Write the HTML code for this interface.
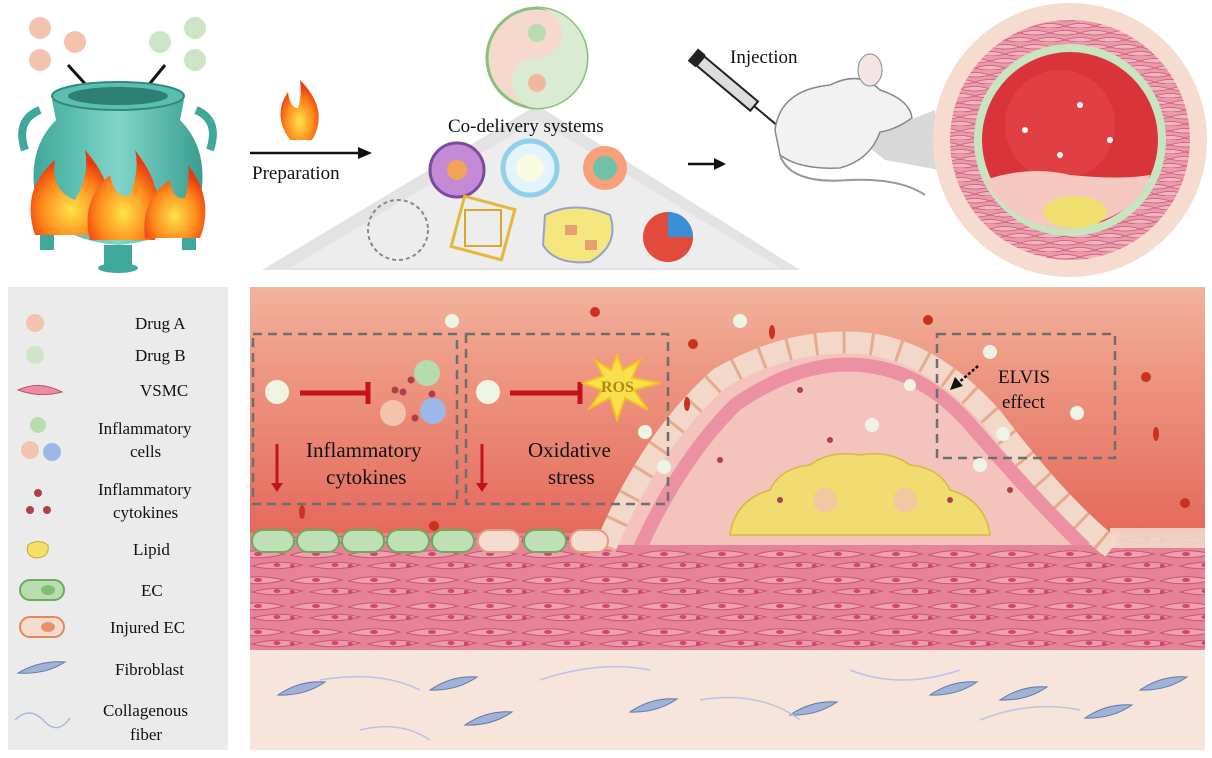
<!DOCTYPE html>
<html><head><meta charset="utf-8"><style>
html,body{margin:0;padding:0;background:#fff;width:1212px;height:758px;overflow:hidden}
svg text{font-family:"Liberation Serif",serif;fill:#111}
</style></head><body>
<svg width="1212" height="758" viewBox="0 0 1212 758" xmlns="http://www.w3.org/2000/svg">
<defs>
<linearGradient id="bg" x1="0" y1="0" x2="0" y2="1">
<stop offset="0" stop-color="#f3b39d"/><stop offset="0.3" stop-color="#ee9a85"/><stop offset="1" stop-color="#e4685a"/></linearGradient>
<linearGradient id="pot" x1="0" y1="0" x2="1" y2="0">
<stop offset="0" stop-color="#3fa89a"/><stop offset="0.5" stop-color="#7fd6c8"/><stop offset="1" stop-color="#3a9d90"/></linearGradient>
<radialGradient id="fl" cx="0.5" cy="0.7" r="0.6"><stop offset="0" stop-color="#ffe34a"/><stop offset="0.6" stop-color="#ff8a1c"/><stop offset="1" stop-color="#e83a10"/></radialGradient>
<pattern id="cells" width="58" height="26" patternUnits="userSpaceOnUse">
<rect width="58" height="26" fill="#e88598"/>
<path d="M0 9 Q25 1 52 8 Q28 15 0 9Z" fill="#f2a8b6" stroke="#c84f70" stroke-width="1"/>
<ellipse cx="26" cy="8" rx="4" ry="2" fill="#c8406c"/>
<path d="M20 20 Q45 13 70 19 Q45 26 20 20Z" fill="#efa0b0" stroke="#c84f70" stroke-width="1"/>
<path d="M-38 20 Q-13 13 12 19 Q-13 26 -38 20Z" fill="#efa0b0" stroke="#c84f70" stroke-width="1"/>
<ellipse cx="45" cy="19" rx="3.5" ry="2" fill="#c8406c"/>
<ellipse cx="2" cy="20" rx="3" ry="2" fill="#c8406c"/>
</pattern>
<pattern id="cells2" width="30" height="14" patternUnits="userSpaceOnUse">
<rect width="30" height="14" fill="#ea9aa8"/>
<path d="M0 5 Q15 0 30 5 Q15 9 0 5Z" fill="#f1b4c0" stroke="#c85a78" stroke-width="0.8"/>
<path d="M-15 12 Q0 7 15 12 Q0 16 -15 12Z M15 12 Q30 7 45 12 Q30 16 15 12Z" fill="#f1b4c0" stroke="#c85a78" stroke-width="0.8"/>
</pattern>
</defs>

<!-- TOP -->
<circle cx="40" cy="28" r="11" fill="#f3c3ad"/><circle cx="75" cy="42" r="11" fill="#f3c3ad"/><circle cx="40" cy="60" r="11" fill="#f3c3ad"/>
<circle cx="160" cy="42" r="11" fill="#cde5c6"/><circle cx="195" cy="28" r="11" fill="#cde5c6"/><circle cx="195" cy="60" r="11" fill="#cde5c6"/>
<line x1="68" y1="65" x2="98" y2="98" stroke="#111" stroke-width="3"/><polygon points="102,103 90,96 98,89" fill="#111"/>
<line x1="165" y1="65" x2="138" y2="98" stroke="#111" stroke-width="3"/><polygon points="133,103 137,90 145,96" fill="#111"/>
<path d="M52 100 Q118 78 184 100 L180 120 Q210 150 200 200 Q180 240 118 245 Q56 240 36 200 Q26 150 56 120 Z" fill="url(#pot)"/>
<ellipse cx="118" cy="96" rx="66" ry="14" fill="#5bbfb0" stroke="#2e8a7e" stroke-width="2"/>
<ellipse cx="118" cy="96" rx="50" ry="9" fill="#2e7f74"/>
<path d="M40 110 Q15 120 25 150" stroke="#3fa89a" stroke-width="8" fill="none"/>
<path d="M196 110 Q220 120 210 150" stroke="#3fa89a" stroke-width="8" fill="none"/>
<rect x="104" y="245" width="28" height="22" fill="#3fa89a"/><ellipse cx="118" cy="268" rx="20" ry="5" fill="#3fa89a"/>
<rect x="40" y="220" width="14" height="30" fill="#3fa89a"/><rect x="182" y="220" width="14" height="30" fill="#3fa89a"/>
<g fill="url(#fl)">
<path d="M35 235 Q20 190 55 160 Q50 190 75 200 Q90 175 85 150 Q120 190 110 235 Z"/>
<path d="M90 240 Q80 200 110 175 Q115 200 130 195 Q140 170 135 150 Q170 195 155 240 Z"/>
<path d="M145 238 Q140 200 170 180 Q172 200 185 198 Q190 180 188 165 Q215 200 200 238 Z"/>
</g>
<path d="M290 140 Q272 115 288 92 Q290 108 298 108 Q302 95 300 80 Q330 110 312 140 Z" fill="url(#fl)"/>
<line x1="250" y1="153" x2="360" y2="153" stroke="#111" stroke-width="2.5"/><polygon points="372,153 358,147 358,159" fill="#111"/>
<text x="252" y="179" font-size="19">Preparation</text>
<polygon points="537,105 800,270 262,270" fill="#e3e3e3"/>
<polygon points="537,120 780,268 290,268" fill="#ededed"/>
<circle cx="537" cy="58" r="50" fill="#f5d9cc" stroke="#8cbf7e" stroke-width="3"/>
<path d="M537 8 A50 50 0 0 1 537 108 A25 25 0 0 1 537 58 A25 25 0 0 0 537 8 Z" fill="#d9ecd2"/>
<circle cx="537" cy="33" r="9" fill="#b8dbb0"/><circle cx="537" cy="83" r="9" fill="#f0b8a0"/>
<text x="448" y="132" font-size="19">Co-delivery systems</text>
<circle cx="457" cy="170" r="27" fill="#c58ad6" stroke="#7e4aa0" stroke-width="3"/><circle cx="457" cy="170" r="10" fill="#f3a25a"/>
<circle cx="530" cy="168" r="27" fill="#e3f3fb" stroke="#8fd0ea" stroke-width="5"/><circle cx="530" cy="168" r="14" fill="#f8fbe0"/>
<circle cx="605" cy="168" r="22" fill="#f7a07a"/><circle cx="605" cy="168" r="12" fill="#6fc2a6"/>
<circle cx="398" cy="230" r="30" fill="none" stroke="#888" stroke-width="2" stroke-dasharray="4 3"/>
<rect x="457" y="202" width="52" height="52" fill="none" stroke="#e3b83a" stroke-width="3" transform="rotate(15 483 228)"/>
<rect x="465" y="210" width="36" height="36" fill="none" stroke="#d9a628" stroke-width="2"/>
<path d="M545 215 Q575 200 610 215 Q620 245 590 262 Q555 265 543 245 Z" fill="#f5e67e" stroke="#9aa0c8" stroke-width="2"/>
<rect x="565" y="225" width="12" height="10" fill="#e8a070"/><rect x="585" y="240" width="12" height="10" fill="#e8a070"/>
<circle cx="668" cy="237" r="25" fill="#e24a3c"/><path d="M668 212 A25 25 0 0 1 693 237 L668 237 Z" fill="#3a8fd6"/>
<line x1="688" y1="164" x2="716" y2="164" stroke="#111" stroke-width="2.5"/><polygon points="726,164 714,158 714,170" fill="#111"/>
<g transform="rotate(40 735 90)"><rect x="690" y="84" width="70" height="12" fill="#ddd" stroke="#222" stroke-width="2"/><rect x="680" y="82" width="10" height="16" fill="#222"/><line x1="760" y1="90" x2="790" y2="90" stroke="#222" stroke-width="2"/></g>
<text x="730" y="63" font-size="19">Injection</text>
<polygon points="860,140 935,110 940,170 885,160" fill="#c8c8c8" opacity="0.7"/>
<path d="M775 130 Q780 90 830 85 Q860 70 880 90 Q910 100 912 118 Q895 130 880 132 Q870 160 840 168 Q800 170 780 155 Z" fill="#f2f2f2" stroke="#888" stroke-width="1.5"/>
<ellipse cx="870" cy="70" rx="12" ry="16" fill="#f4e4e4" stroke="#888"/>
<path d="M780 155 Q790 185 850 180 Q900 178 925 195" stroke="#999" stroke-width="2" fill="none"/>
<!-- artery circle -->
<circle cx="1070" cy="140" r="137" fill="#f5dccf"/>
<circle cx="1070" cy="140" r="120" fill="url(#cells2)"/>
<circle cx="1070" cy="140" r="96" fill="#c9e5c0"/>
<circle cx="1070" cy="140" r="88" fill="#d8343a"/>
<circle cx="1060" cy="125" r="55" fill="#e64a4a" opacity="0.6"/>
<path d="M985 180 Q1030 165 1070 175 Q1120 180 1150 175 Q1140 215 1070 230 Q1010 225 985 180 Z" fill="#f5c8c0"/>
<ellipse cx="1075" cy="212" rx="32" ry="16" fill="#f0e070"/>
<circle cx="1025" cy="130" r="3" fill="#fff"/><circle cx="1080" cy="105" r="3" fill="#fff"/><circle cx="1110" cy="140" r="3" fill="#fff"/><circle cx="1060" cy="155" r="3" fill="#fff"/>

<!-- LEGEND -->
<rect x="8" y="287" width="220" height="463" fill="#ebebeb"/>
<g font-size="17">
<circle cx="35" cy="323" r="9" fill="#f3c3ad"/><text x="135" y="329">Drug A</text>
<circle cx="35" cy="355" r="9" fill="#cde5c6"/><text x="135" y="361">Drug B</text>
<path d="M18 390 Q40 380 62 392 Q40 398 18 390 Z" fill="#ec8ea2" stroke="#c0506a"/><text x="140" y="396">VSMC</text>
<circle cx="38" cy="425" r="8" fill="#b9dcb0"/><circle cx="30" cy="450" r="9" fill="#f3c3ad"/><circle cx="52" cy="452" r="9" fill="#9cb8e8"/>
<text x="98" y="434">Inflammatory</text><text x="130" y="457">cells</text>
<circle cx="38" cy="493" r="4" fill="#b04048"/><circle cx="30" cy="510" r="4" fill="#b04048"/><circle cx="47" cy="510" r="4" fill="#b04048"/>
<text x="98" y="495">Inflammatory</text><text x="113" y="518">cytokines</text>
<path d="M28 545 Q38 538 48 545 Q50 558 35 558 Q25 555 28 545Z" fill="#f5e06a" stroke="#c9a830"/><text x="133" y="555">Lipid</text>
<rect x="20" y="580" width="44" height="20" rx="10" fill="#b9dcb0" stroke="#6caa5e" stroke-width="2"/><ellipse cx="48" cy="590" rx="7" ry="5" fill="#7fbf70"/><text x="141" y="596">EC</text>
<rect x="20" y="617" width="44" height="20" rx="10" fill="#f6dccf" stroke="#e08a5a" stroke-width="2"/><ellipse cx="48" cy="627" rx="7" ry="5" fill="#e8926a"/><text x="110" y="633">Injured EC</text>
<path d="M18 673 Q40 660 65 662 Q45 675 18 673Z" fill="#9fb2d8" stroke="#6078a8"/><text x="115" y="675">Fibroblast</text>
<path d="M15 720 Q30 705 45 722 Q58 735 70 718" stroke="#a8b8e0" stroke-width="1.5" fill="none"/>
<text x="103" y="716">Collagenous</text><text x="130" y="740">fiber</text>
</g>

<!-- MAIN -->
<rect x="250" y="287" width="955" height="250" fill="url(#bg)"/>
<rect x="250" y="533" width="955" height="118" fill="url(#cells)"/>
<rect x="250" y="533" width="955" height="118" fill="#e07890" opacity="0.15"/>
<rect x="250" y="650" width="955" height="100" fill="#f7e4da"/>
<!-- plaque -->
<path d="M600 545 Q650 440 720 380 Q790 340 860 345 Q930 350 990 420 Q1060 510 1110 545 Z" fill="#f4c4bc"/>
<path d="M605 548 Q650 440 720 378 Q790 338 860 343 Q930 348 992 418 Q1060 508 1112 548" stroke="#f2d8c8" stroke-width="22" fill="none"/>
<path d="M605 548 Q650 440 720 378 Q790 338 860 343 Q930 348 992 418 Q1060 508 1112 548" stroke="#e0a080" stroke-width="22" fill="none" stroke-dasharray="3 25" opacity="0.8"/>
<path d="M640 548 Q680 460 735 405 Q800 360 860 365 Q925 370 975 430 Q1040 505 1085 548" stroke="#e8849a" stroke-width="14" fill="none" opacity="0.8"/>
<path d="M730 535 Q735 500 770 490 Q780 468 810 465 Q830 450 860 455 Q890 450 910 465 Q940 468 950 490 Q985 500 990 535 Z" fill="#f0dc70" stroke="#d8b840" stroke-width="1.5"/>
<circle cx="825" cy="500" r="12" fill="#f3c3ad" opacity="0.8"/><circle cx="905" cy="500" r="12" fill="#f3c3ad" opacity="0.8"/>
<rect x="1110" y="528" width="95" height="20" fill="#f3d8c8" opacity="0.9"/>
<!-- ECs -->
<g stroke="#6caa5e" stroke-width="2" fill="#bfe0b5">
<rect x="252" y="530" width="42" height="22" rx="11"/><rect x="297" y="530" width="42" height="22" rx="11"/><rect x="342" y="530" width="42" height="22" rx="11"/><rect x="387" y="530" width="42" height="22" rx="11"/><rect x="432" y="530" width="42" height="22" rx="11"/><rect x="524" y="530" width="42" height="22" rx="11"/>
</g>
<g stroke="#e0a080" stroke-width="2" fill="#f6dccf"><rect x="478" y="530" width="42" height="22" rx="11"/><rect x="570" y="530" width="38" height="22" rx="11"/></g>
<g fill="none" stroke="#6e6e6e" stroke-width="2.5" stroke-dasharray="9 6">
<rect x="253" y="334" width="204" height="170"/><rect x="466" y="334" width="202" height="170"/><rect x="937" y="334" width="178" height="124"/>
</g>
<circle cx="277" cy="392" r="12" fill="#eef3e4"/>
<line x1="300" y1="393" x2="368" y2="393" stroke="#c0141a" stroke-width="5"/><line x1="368" y1="382" x2="368" y2="404" stroke="#c0141a" stroke-width="5"/>
<circle cx="427" cy="373" r="13" fill="#b5dcae"/><circle cx="393" cy="413" r="13" fill="#f3c3ad"/><circle cx="433" cy="411" r="13" fill="#9cb8e8"/>
<circle cx="395" cy="390" r="3.5" fill="#b04048"/><circle cx="403" cy="392" r="3.5" fill="#b04048"/><circle cx="411" cy="380" r="3.5" fill="#b04048"/><circle cx="432" cy="394" r="3.5" fill="#b04048"/><circle cx="415" cy="418" r="3.5" fill="#b04048"/>
<line x1="277" y1="444" x2="277" y2="485" stroke="#c0141a" stroke-width="3"/><polygon points="271,483 283,483 277,492" fill="#c0141a"/>
<text x="306" y="457" font-size="21">Inflammatory</text><text x="326" y="484" font-size="21">cytokines</text>
<circle cx="488" cy="392" r="12" fill="#eef3e4"/>
<line x1="510" y1="393" x2="580" y2="393" stroke="#c0141a" stroke-width="5"/><line x1="580" y1="382" x2="580" y2="404" stroke="#c0141a" stroke-width="5"/>
<polygon points="617,355 623,370 640,360 632,378 660,383 634,390 648,410 625,398 617,420 610,398 590,408 602,390 583,383 603,376 595,360 611,370" fill="#f8e04a" stroke="#f5c020" stroke-width="2"/>
<text x="601" y="392" font-size="16" font-weight="bold" style="fill:#b08a10">ROS</text>
<line x1="482" y1="444" x2="482" y2="485" stroke="#c0141a" stroke-width="3"/><polygon points="476,483 488,483 482,492" fill="#c0141a"/>
<text x="528" y="457" font-size="21">Oxidative</text><text x="548" y="484" font-size="21">stress</text>
<text x="998" y="383" font-size="19">ELVIS</text><text x="1002" y="408" font-size="19">effect</text>
<line x1="978" y1="366" x2="957" y2="384" stroke="#111" stroke-width="2.5" stroke-dasharray="3 2"/><polygon points="950,390 955,377 963,386" fill="#111"/>
<g fill="#eef3e4"><circle cx="452" cy="321" r="7"/><circle cx="740" cy="321" r="7"/><circle cx="645" cy="432" r="7"/><circle cx="664" cy="467" r="7"/><circle cx="872" cy="425" r="7"/><circle cx="990" cy="352" r="7"/><circle cx="1077" cy="413" r="7"/><circle cx="1003" cy="434" r="7"/><circle cx="980" cy="465" r="7"/><circle cx="910" cy="385" r="6"/></g>
<g fill="#c8321e"><circle cx="595" cy="312" r="5"/><circle cx="693" cy="344" r="5"/><circle cx="434" cy="526" r="5"/><circle cx="928" cy="320" r="5"/><circle cx="1146" cy="377" r="5"/><circle cx="1185" cy="503" r="5"/><ellipse cx="687" cy="404" rx="3" ry="7"/><ellipse cx="302" cy="512" rx="3" ry="7"/><ellipse cx="772" cy="332" rx="3" ry="7"/><ellipse cx="1156" cy="434" rx="3" ry="7"/></g>
<g fill="#b04048"><circle cx="800" cy="390" r="3"/><circle cx="830" cy="440" r="3"/><circle cx="950" cy="500" r="3"/><circle cx="720" cy="460" r="3"/><circle cx="1010" cy="490" r="3"/><circle cx="780" cy="500" r="3"/></g>
<g fill="#9fb2d8" stroke="#6078a8">
<path d="M278 695 Q300 680 325 682 Q305 696 278 695Z"/><path d="M430 690 Q452 675 477 677 Q457 691 430 690Z"/><path d="M465 725 Q487 710 512 712 Q492 726 465 725Z"/><path d="M630 712 Q652 697 677 699 Q657 713 630 712Z"/><path d="M790 715 Q812 700 837 702 Q817 716 790 715Z"/><path d="M930 695 Q952 680 977 682 Q957 696 930 695Z"/><path d="M1085 718 Q1107 703 1132 705 Q1112 719 1085 718Z"/><path d="M1140 690 Q1162 675 1187 677 Q1167 691 1140 690Z"/><path d="M1000 700 Q1022 685 1047 687 Q1027 701 1000 700Z"/>
</g>
<g stroke="#b8c4e8" stroke-width="1.5" fill="none">
<path d="M320 680 Q380 670 420 690"/><path d="M540 680 Q600 660 650 670"/><path d="M700 700 Q760 690 800 720"/><path d="M850 670 Q900 690 960 670"/><path d="M980 720 Q1030 700 1080 710"/><path d="M360 730 Q400 720 430 740"/>
</g>
</svg>
</body></html>
